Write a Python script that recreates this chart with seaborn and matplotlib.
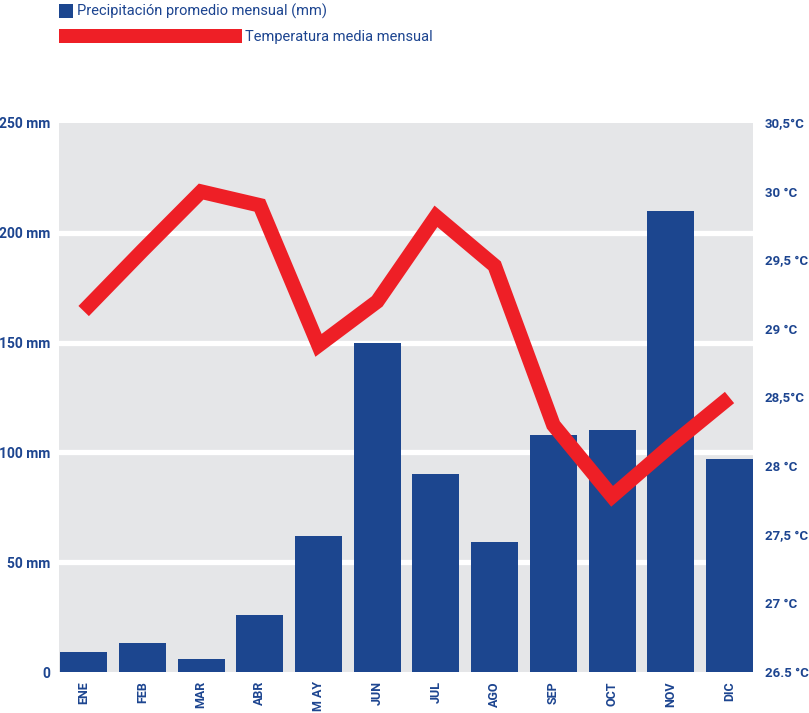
import numpy as np
import pandas as pd
import matplotlib
matplotlib.use("Agg")
import matplotlib.pyplot as plt
from matplotlib.patches import Rectangle
import seaborn as sns

# Monthly climate data
months = ["ENE", "FEB", "MAR", "ABR", "M AY", "JUN", "JUL", "AGO", "SEP", "OCT", "NOV", "DIC"]
precip_mm = [9, 13, 6, 26, 62, 150, 90, 59, 108, 110, 210, 97]
temp_c = [29.13, 29.57, 30.0, 29.9, 28.88, 29.2, 29.82, 29.46, 28.3, 27.78, 28.15, 28.5]

precip_ticks = [0, 50, 100, 150, 200, 250]
precip_labels = ["0", "50 mm", "100 mm", "150 mm", "200 mm", "250 mm"]
temp_ticks = [26.5, 27.0, 27.5, 28.0, 28.5, 29.0, 29.5, 30.0, 30.5]
temp_labels = ["26.5 °C", "27 °C", "27,5 °C", "28 °C", "28,5°C", "29 °C", "29,5 °C", "30 °C", "30,5°C"]

legend_precip = "Precipitación promedio mensual (mm)"
legend_temp = "Temperatura media mensual"

BLUE = "#1c468f"
RED = "#ee1f26"
TEXT = "#1d4590"
PANEL = "#e5e6e8"

sns.set_theme(style="white")
plt.rcParams["font.family"] = ["Roboto", "DejaVu Sans"]

W, H = 809, 713
fig = plt.figure(figsize=(W / 100, H / 100), dpi=100)
left, right, top, bottom = 59, 753, 123, 672
ax = fig.add_axes([left / W, 1 - bottom / H, (right - left) / W, (bottom - top) / H])
ax.set_facecolor(PANEL)

df = pd.DataFrame({"mes": months, "precip": precip_mm, "temp": temp_c})

sns.barplot(data=df, x="mes", y="precip", color=BLUE, saturation=1,
            width=0.8, linewidth=0, ax=ax, zorder=2)
ax.set_xlim(-0.42, len(months) - 0.6)
ax.set_ylim(0, 250)
ax.set_yticks(precip_ticks)
ax.set_yticklabels(precip_labels, fontsize=10, fontweight="bold", color=TEXT)
ax.set_xticks(range(len(months)))
ax.set_xticklabels(months, rotation=90, fontsize=9, fontweight="bold", color=TEXT,
                   va="top", ha="center")
ax.set_xlabel("")
ax.set_ylabel("")
ax.set_axisbelow(True)
ax.grid(axis="y", color="white", linewidth=3.8)
ax.grid(axis="x", visible=False)
grid = ax.yaxis.get_gridlines()
grid[0].set_visible(False)
grid[-1].set_visible(False)
ax.tick_params(axis="y", length=0, pad=6)
ax.tick_params(axis="x", length=0, pad=6.5)
for s in ax.spines.values():
    s.set_visible(False)

# Temperature line on the secondary axis
ax2 = ax.twinx()
sns.lineplot(x=np.arange(len(months)), y=df["temp"], ax=ax2, color=RED,
             linewidth=10.5, sort=False, legend=False)
line = ax2.lines[0]
line.set_solid_capstyle("butt")
line.set_solid_joinstyle("miter")
ax2.set_ylim(26.5, 30.5)
ax2.set_yticks(temp_ticks)
ax2.set_yticklabels(temp_labels, fontsize=9.5, fontweight="bold", color=TEXT)
ax2.set_ylabel("")
ax2.tick_params(axis="y", length=0, pad=8.5)
ax2.grid(False)
for s in ax2.spines.values():
    s.set_visible(False)

# Legend drawn in figure pixel space
def fx(px):
    return px / W

def fy(py):
    return 1 - py / H

fig.patches.append(Rectangle((fx(59), fy(17.7)), fx(14), 13.4 / H,
                             transform=fig.transFigure, color=BLUE, lw=0))
fig.text(fx(77), fy(11.5), legend_precip, fontsize=10.5, color=TEXT,
         va="center", ha="left")
fig.patches.append(Rectangle((fx(59), fy(43.3)), fx(183), 14.3 / H,
                             transform=fig.transFigure, color=RED, lw=0))
fig.text(fx(245), fy(36.5), legend_temp, fontsize=10.5, color=TEXT,
         va="center", ha="left")

fig.savefig("out.png", dpi=100)
